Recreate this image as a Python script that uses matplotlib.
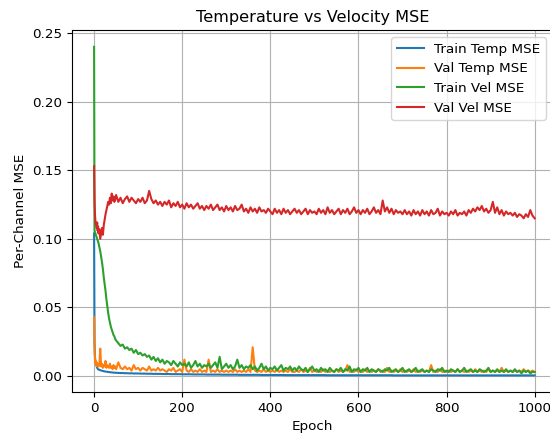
import matplotlib
matplotlib.use("Agg")
import matplotlib.pyplot as plt

plt.rcParams['font.size'] = 9.7

# epochs sampled from the curves (dense at the start, every 5 later)
epochs = list(range(0, 11)) + list(range(12, 51, 2)) + list(range(55, 1001, 5))

train_temp = [
    0.104, 0.024, 0.014, 0.011, 0.009, 0.008, 0.007, 0.006, 0.0055, 0.005, 0.0048,
    0.0045, 0.0043, 0.0041, 0.0039, 0.0037, 0.0036, 0.0034, 0.0033, 0.0032, 0.0031,
    0.0030, 0.0029, 0.0028, 0.0027, 0.0027, 0.0026, 0.0025, 0.0025, 0.0024, 0.0024,
    .0023, .0022, .0022, .0021, .0021, .0020, .0020, .0019, .0019, .0019,
    .0018, .0018, .0018, .0017, .0017, .0017, .0016, .0016, .0016, .0016,
    .0015, .0015, .0015, .0015, .0014, .0014, .0014, .0014, .0014, .0013,
    .0013, .0013, .0013, .0013, .0012, .0012, .0012, .0012, .0012, .0012,
    .0011, .0011, .0011, .0011, .0011, .0011, .0011, .0010, .0010, .0010,
    .0010, .0010, .0010, .0010, .0010, .0009, .0009, .0009, .0009, .0009,
    .0009, .0009, .0009, .0009, .0009, .0008, .0008, .0008, .0008, .0008,
    .0008, .0008, .0008, .0008, .0008, .0008, .0007, .0007, .0007, .0007,
    .0007, .0007, .0007, .0007, .0007, .0007, .0007, .0007, .0007, .0007,
    .0007, .0007, .0007, .0007, .0007, .0006, .0006, .0006, .0006, .0006,
    .0006, .0006, .0006, .0006, .0006, .0006, .0006, .0006, .0006, .0006,
    .0006, .0006, .0006, .0006, .0006, .0006, .0006, .0006, .0006, .0006,
    .0006, .0006, .0006, .0006, .0006, .0005, .0005, .0005, .0005, .0005,
    .0005, .0005, .0005, .0005, .0005, .0005, .0005, .0005, .0005, .0005,
    .0005, .0005, .0005, .0005, .0005, .0005, .0005, .0005, .0005, .0005,
    .0005, .0005, .0005, .0005, .0005, .0005, .0005, .0005, .0005, .0005,
    .0005, .0005, .0005, .0005, .0005, .0005, .0005, .0005, .0005, .0005,
    .0005, .0005, .0005, .0005, .0005, .0005, .0005, .0005, .0005, .0005,
    .0005, .0005, .0005, .0005, .0005, .0005, .0005, .0005, .0005, .0005,
]

val_temp = [
    0.043, 0.022, 0.012, 0.009, 0.011, 0.008, 0.010, 0.007, 0.009, 0.008, 0.007,
    0.008, 0.020, 0.007, 0.009, 0.006, 0.008, 0.007, 0.011, 0.006, 0.008,
    0.007, 0.006, 0.009, 0.006, 0.007, 0.005, 0.008, 0.006, 0.007, 0.005,
    0.010, 0.006, 0.005, 0.007, 0.005, 0.006, 0.004, 0.008, 0.005, 0.006,
    0.004, 0.006, 0.005, 0.004, 0.007, 0.004, 0.005, 0.004, 0.006, 0.004,
    0.005, 0.004, 0.003, 0.005, 0.004, 0.006, 0.003, 0.004, 0.005, 0.003,
    0.012, 0.004, 0.003, 0.005, 0.003, 0.004, 0.003, 0.005, 0.003, 0.004,
    0.003, 0.012, 0.003, 0.004, 0.003, 0.005, 0.003, 0.004, 0.003, 0.004,
    0.003, 0.004, 0.003, 0.005, 0.003, 0.004, 0.003, 0.004, 0.003, 0.005,
    0.003, 0.021, 0.004, 0.003, 0.004, 0.003, 0.005, 0.003, 0.004, 0.003,
    0.004, 0.003, 0.005, 0.003, 0.004, 0.003, 0.004, 0.003, 0.005, 0.003,
    0.003, 0.004, 0.003, 0.005, 0.003, 0.004, 0.003, 0.006, 0.003, 0.004,
    0.003, 0.004, 0.003, 0.005, 0.003, 0.004, 0.003, 0.004, 0.003, 0.005,
    0.003, 0.004, 0.003, 0.004, 0.008, 0.003, 0.004, 0.003, 0.005, 0.003,
    0.004, 0.003, 0.005, 0.003, 0.004, 0.003, 0.004, 0.003, 0.005, 0.003,
    0.004, 0.003, 0.006, 0.003, 0.004, 0.003, 0.004, 0.003, 0.005, 0.003,
    0.004, 0.003, 0.004, 0.003, 0.005, 0.003, 0.004, 0.003, 0.004, 0.003,
    0.004, 0.003, 0.008, 0.003, 0.004, 0.003, 0.005, 0.003, 0.004, 0.003,
    0.004, 0.003, 0.004, 0.003, 0.005, 0.003, 0.004, 0.003, 0.004, 0.003,
    0.004, 0.003, 0.005, 0.003, 0.004, 0.003, 0.004, 0.003, 0.005, 0.003,
    0.004, 0.003, 0.004, 0.003, 0.006, 0.003, 0.004, 0.003, 0.004, 0.003,
    0.004, 0.003, 0.004, 0.003, 0.005, 0.003, 0.004, 0.003, 0.004, 0.003,
]

train_vel = [
    0.240, 0.106, 0.105, 0.104, 0.103, 0.102, 0.101, 0.100, 0.099, 0.098, 0.097,
    0.094, 0.091, 0.087, 0.083, 0.078, 0.072, 0.067, 0.062, 0.056, 0.051,
    0.046, 0.042, 0.039, 0.036, 0.034, 0.032, 0.030, 0.029, 0.027, 0.026,
    0.024, 0.022, 0.023, 0.020, 0.021, 0.019, 0.020, 0.017, 0.019, 0.016,
    0.017, 0.015, 0.016, 0.014, 0.015, 0.012, 0.014, 0.011, 0.013, 0.010,
    0.012, 0.009, 0.011, 0.010, 0.008, 0.011, 0.009, 0.007, 0.010, 0.008,
    0.009, 0.007, 0.010, 0.006, 0.008, 0.011, 0.007, 0.009, 0.006, 0.008,
    0.007, 0.009, 0.006, 0.008, 0.010, 0.006, 0.014, 0.005, 0.007, 0.009,
    0.006, 0.008, 0.005, 0.007, 0.012, 0.006, 0.008, 0.005, 0.007, 0.006,
    0.008, 0.005, 0.007, 0.004, 0.006, 0.009, 0.005, 0.007, 0.004, 0.006,
    0.005, 0.007, 0.004, 0.006, 0.008, 0.004, 0.006, 0.005, 0.007, 0.004,
    0.006, 0.004, 0.007, 0.005, 0.004, 0.006, 0.003, 0.005, 0.007, 0.004,
    0.005, 0.003, 0.006, 0.004, 0.005, 0.003, 0.006, 0.004, 0.003, 0.005,
    0.004, 0.006, 0.003, 0.005, 0.004, 0.007, 0.003, 0.005, 0.004, 0.006,
    0.003, 0.005, 0.004, 0.006, 0.003, 0.005, 0.004, 0.003, 0.005, 0.004,
    0.003, 0.005, 0.004, 0.006, 0.003, 0.004, 0.005, 0.003, 0.004, 0.006,
    0.003, 0.004, 0.005, 0.003, 0.004, 0.006, 0.003, 0.004, 0.005, 0.003,
    0.004, 0.003, 0.005, 0.004, 0.003, 0.005, 0.004, 0.006, 0.003, 0.004,
    0.003, 0.005, 0.004, 0.003, 0.005, 0.003, 0.004, 0.006, 0.003, 0.004,
    0.005, 0.003, 0.004, 0.003, 0.005, 0.004, 0.003, 0.004, 0.006, 0.003,
    0.004, 0.003, 0.005, 0.003, 0.004, 0.003, 0.005, 0.003, 0.004, 0.003,
    0.005, 0.003, 0.004, 0.002, 0.004, 0.003, 0.004, 0.002, 0.003, 0.003,
]

val_vel = [
    0.153, 0.128, 0.118, 0.113, 0.111, 0.110, 0.108, 0.112, 0.106, 0.109, 0.104,
    0.107, 0.100, 0.104, 0.108, 0.103, 0.110, 0.114, 0.118, 0.121, 0.124,
    0.127, 0.125, 0.130, 0.126, 0.133, 0.128, 0.131, 0.127, 0.129, 0.132,
    0.127, 0.130, 0.126, 0.129, 0.131, 0.127, 0.130, 0.128, 0.126, 0.129,
    0.127, 0.130, 0.126, 0.128, 0.135, 0.129, 0.126, 0.128, 0.125, 0.127,
    0.124, 0.127, 0.125, 0.128, 0.123, 0.126, 0.124, 0.127, 0.123, 0.125,
    0.122, 0.126, 0.123, 0.125, 0.122, 0.124, 0.126, 0.122, 0.124, 0.121,
    0.124, 0.122, 0.125, 0.121, 0.123, 0.125, 0.121, 0.123, 0.120, 0.124,
    0.121, 0.123, 0.120, 0.124, 0.121, 0.122, 0.125, 0.120, 0.122, 0.119,
    0.123, 0.120, 0.122, 0.119, 0.123, 0.120, 0.121, 0.119, 0.122, 0.120,
    0.118, 0.122, 0.119, 0.121, 0.118, 0.122, 0.119, 0.121, 0.118, 0.120,
    0.122, 0.119, 0.121, 0.118, 0.120, 0.122, 0.118, 0.121, 0.119, 0.120,
    0.118, 0.122, 0.119, 0.121, 0.118, 0.123, 0.119, 0.121, 0.118, 0.120,
    0.122, 0.118, 0.121, 0.119, 0.122, 0.118, 0.120, 0.123, 0.119, 0.121,
    0.118, 0.121, 0.119, 0.122, 0.118, 0.120, 0.123, 0.119, 0.121, 0.118,
    0.128, 0.120, 0.123, 0.119, 0.122, 0.118, 0.121, 0.119, 0.120, 0.118,
    0.121, 0.118, 0.120, 0.117, 0.121, 0.118, 0.120, 0.117, 0.121, 0.118,
    0.120, 0.117, 0.121, 0.118, 0.119, 0.122, 0.117, 0.120, 0.118, 0.119,
    0.117, 0.120, 0.118, 0.121, 0.117, 0.119, 0.118, 0.120, 0.117, 0.121,
    0.119, 0.122, 0.120, 0.123, 0.121, 0.124, 0.120, 0.122, 0.119, 0.121,
    0.127, 0.119, 0.123, 0.118, 0.121, 0.117, 0.120, 0.118, 0.119, 0.117,
    0.119, 0.116, 0.118, 0.117, 0.115, 0.118, 0.116, 0.121, 0.117, 0.115,
]

fig = plt.figure(figsize=(5.5, 4.37), dpi=100)
ax = fig.add_axes([0.131, 0.1034, 0.874, 0.827])

ax.plot(epochs, train_temp, label='Train Temp MSE')
ax.plot(epochs, val_temp, label='Val Temp MSE')
ax.plot(epochs, train_vel, label='Train Vel MSE')
ax.plot(epochs, val_vel, label='Val Vel MSE')

ax.set_xlim(-50, 1041)
ax.set_title('Temperature vs Velocity MSE')
ax.set_xlabel('Epoch')
ax.set_ylabel('Per-Channel MSE')
ax.grid(True)
ax.legend(loc='upper right')

fig.savefig('out.png', dpi=100)
